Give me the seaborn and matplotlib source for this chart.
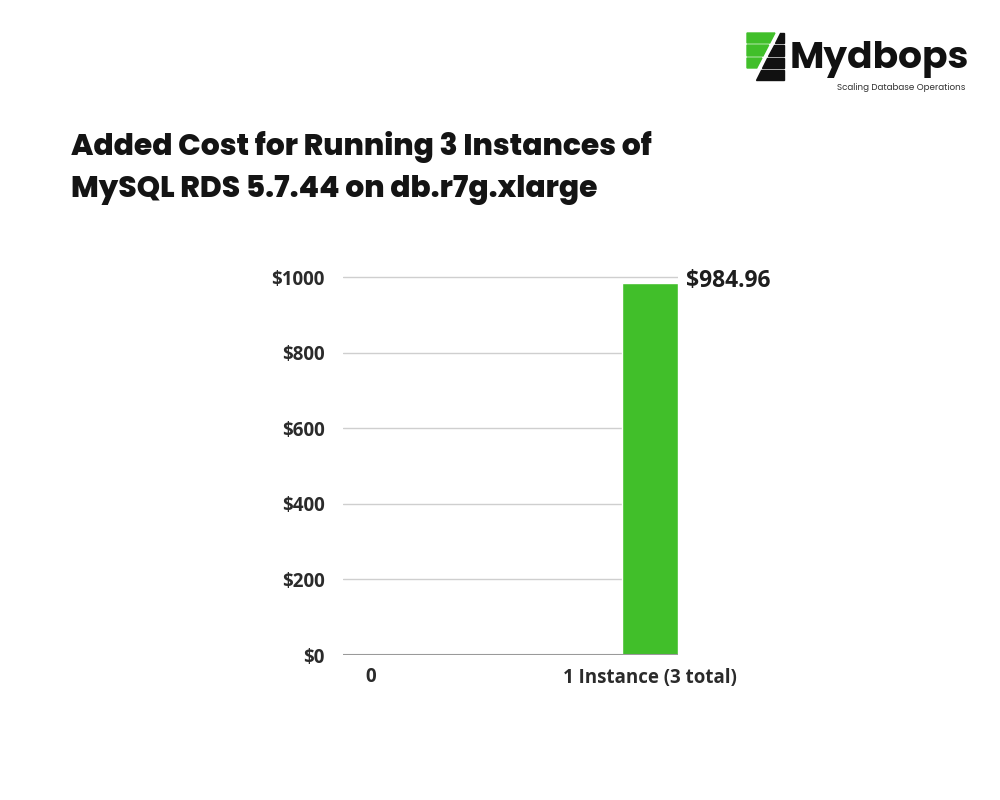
import seaborn as sns
from matplotlib import pyplot as plt
from matplotlib.patches import Polygon
import pandas as pd

# data
categories = ["0", "1 Instance (3 total)"]
costs = [0, 984.96]
yticks = [0, 200, 400, 600, 800, 1000]
ytick_labels = ["$0", "$200", "$400", "$600", "$800", "$1000"]

df = pd.DataFrame({"setup": categories, "cost": costs})

sns.set_theme(style="white")
plt.rcParams['font.family'] = ['Open Sans', 'DejaVu Sans']

fig = plt.figure(figsize=(10, 8), dpi=100)
ax = fig.add_axes([0.343, 0.18125, 0.335, 0.496])

sns.barplot(data=df, x="setup", y="cost", color="#41bf2a", width=0.2,
            saturation=1, ax=ax, zorder=3)

ax.set_xlim(-0.1, 1.1)
ax.set_ylim(0, 1050)
ax.set_yticks(yticks)
ax.set_yticklabels(ytick_labels)
ax.set_xlabel("")
ax.set_ylabel("")
for y in yticks[1:]:
    ax.axhline(y, color="#cfcfcf", lw=1, zorder=1)
ax.axhline(0, color="#9a9a9a", lw=1.5, zorder=4)
sns.despine(ax=ax, left=True, bottom=True)
ax.tick_params(axis="both", length=0, labelsize=13.5, labelcolor="#2b2b2b")
ax.tick_params(axis="y", pad=13)
ax.tick_params(axis="x", pad=9)
for lab in ax.get_xticklabels() + ax.get_yticklabels():
    lab.set_fontweight("bold")

ax.annotate(f"${costs[1]:.2f}", xy=(1.1, costs[1]), xytext=(6, 1),
            textcoords="offset points", ha="left", va="center",
            fontsize=16.5, fontweight="bold", color="#1e1e1e",
            annotation_clip=False)

# title
fig.text(0.071, 0.836, "Added Cost for Running 3 Instances of\nMySQL RDS 5.7.44 on db.r7g.xlarge",
         ha="left", va="top", fontsize=21.4, fontweight="heavy",
         color="#141414", linespacing=1.55,
         family=["Poppins", "Inter", "DejaVu Sans"])

# logo
fig.text(0.790, 0.925, "Mydbops", ha="left", va="center", fontsize=27,
         fontweight="bold", color="#111111", family=["Poppins", "Inter", "DejaVu Sans"])
fig.text(0.837, 0.890, "Scaling Database Operations", ha="left", va="center",
         fontsize=6.3, color="#333333", family=["Poppins", "Inter", "DejaVu Sans"])


def px(pts):
    return [(x / 1000, 1 - y / 800) for x, y in pts]


def slash_x(y):
    return 779 - (y - 30) * 0.52


bands = [(33, 43), (45, 56), (58, 68), (70, 80)]
for i, (y0, y1) in enumerate(bands):
    gap = 2.5
    if i < 3:
        fig.patches.append(Polygon(px([(747, y0), (slash_x(y0) - gap, y0),
                                       (slash_x(y1) - gap, y1), (747, y1)]),
                                   closed=True, transform=fig.transFigure, color="#41bf2a"))
    fig.patches.append(Polygon(px([(slash_x(y0) + gap, y0), (784, y0),
                                   (784, y1), (slash_x(y1) + gap, y1)]),
                               closed=True, transform=fig.transFigure, color="#111111"))

fig.savefig("out.png", dpi=100)
